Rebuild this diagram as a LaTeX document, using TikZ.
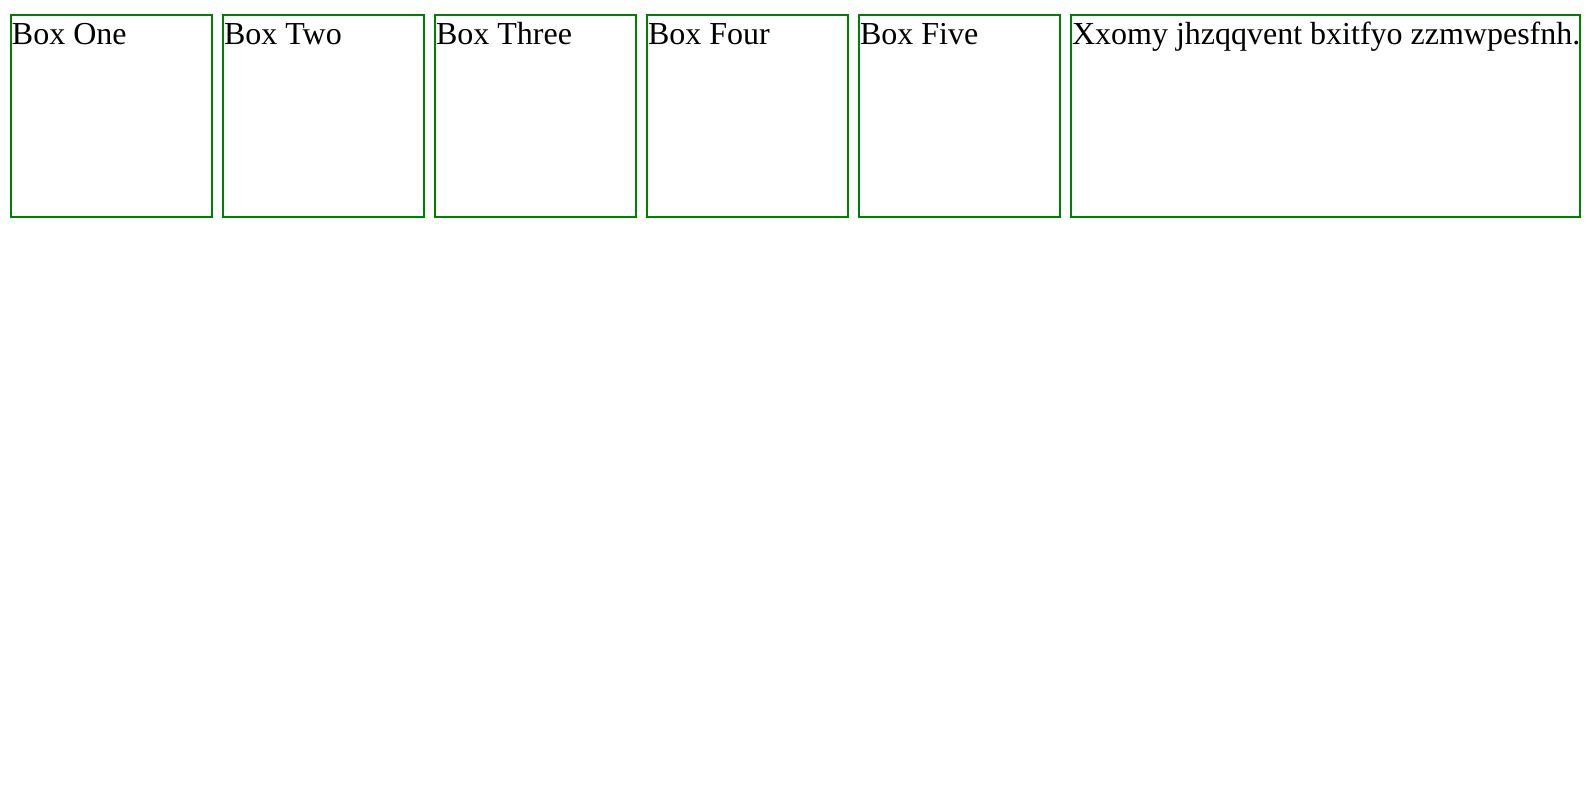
\documentclass[tikz,border=0pt]{standalone}
\usepackage{fontspec}
\setmainfont{Liberation Serif}
\definecolor{boxgreen}{RGB}{0,128,0}
\tikzset{
  greenbox/.style={draw=boxgreen, line width=2pt, rectangle, inner sep=0pt, outer sep=0pt,
    anchor=north west, minimum height=201pt},
  boxtext/.style={anchor=base west, inner sep=0pt, outer sep=0pt,
    font=\fontsize{32pt}{36pt}\selectfont, text=black}
}
\begin{document}
\begin{tikzpicture}[x=1pt,y=-1pt]
\useasboundingbox[fill=white] (0,0) rectangle (1594,800);
\node[greenbox, minimum width=201pt] (b1) at (11,15.5) {};
\node[greenbox, minimum width=201pt] (b2) at (223,15.5) {};
\node[greenbox, minimum width=201pt] (b3) at (435,15.5) {};
\node[greenbox, minimum width=201pt] (b4) at (647,15.5) {};
\node[greenbox, minimum width=201pt] (b5) at (859,15.5) {};
\node[greenbox, minimum width=509pt] (b6) at (1071,15.5) {};
\node[boxtext] (t1) at ([xshift=1pt,yshift=-29pt]b1.north west) {Box One};
\node[boxtext] (t2) at ([xshift=1pt,yshift=-29pt]b2.north west) {Box Two};
\node[boxtext] (t3) at ([xshift=1pt,yshift=-29pt]b3.north west) {Box Three};
\node[boxtext] (t4) at ([xshift=1pt,yshift=-29pt]b4.north west) {Box Four};
\node[boxtext] (t5) at ([xshift=1pt,yshift=-29pt]b5.north west) {Box Five};
\node[boxtext] (t6) at ([xshift=1pt,yshift=-29pt]b6.north west) {Xxomy jhzqqvent bxitfyo zzmwpesfnh.};
\end{tikzpicture}
\end{document}
